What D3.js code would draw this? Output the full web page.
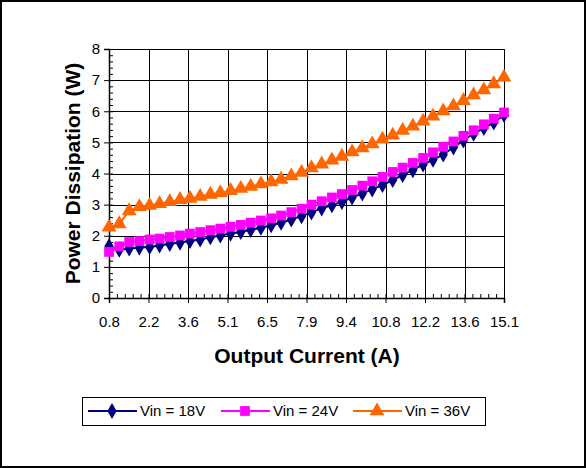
<!DOCTYPE html>
<html>
<head>
<meta charset="utf-8">
<script src="https://cdn.jsdelivr.net/npm/d3@7"></script>
<style>
  body { margin: 0; background: #fff; }
  text { font-family: "Liberation Sans", Arial, sans-serif; fill: #000; }
</style>
</head>
<body>
<div id="chart"></div>
<script>
// output current (A)
var current = [0.80, 1.17, 1.53, 1.90, 2.27, 2.63, 3.00, 3.37, 3.73, 4.10,
  4.47, 4.83, 5.20, 5.57, 5.93, 6.30, 6.67, 7.03, 7.40, 7.77,
  8.13, 8.50, 8.87, 9.23, 9.60, 9.97, 10.33, 10.70, 11.07, 11.43,
  11.80, 12.17, 12.53, 12.90, 13.27, 13.63, 14.00, 14.37, 14.73, 15.10];

// power dissipation (W) per input voltage
var vin18 = [1.66, 1.55, 1.59, 1.62, 1.64, 1.69, 1.74, 1.78, 1.83, 1.88,
  1.95, 2.01, 2.07, 2.12, 2.19, 2.26, 2.34, 2.42, 2.52, 2.63,
  2.75, 2.88, 2.98, 3.09, 3.23, 3.36, 3.49, 3.63, 3.79, 3.95,
  4.11, 4.29, 4.44, 4.61, 4.84, 5.06, 5.28, 5.46, 5.64, 5.88];
var vin24 = [1.48, 1.66, 1.80, 1.83, 1.88, 1.91, 1.96, 2.01, 2.07, 2.12,
  2.18, 2.23, 2.29, 2.35, 2.42, 2.49, 2.56, 2.65, 2.76, 2.87,
  3.00, 3.11, 3.23, 3.34, 3.47, 3.61, 3.75, 3.89, 4.05, 4.19,
  4.34, 4.50, 4.68, 4.86, 5.03, 5.21, 5.39, 5.58, 5.76, 5.96];
var vin36 = [2.27, 2.38, 2.80, 2.93, 2.97, 3.03, 3.09, 3.16, 3.20, 3.26,
  3.33, 3.38, 3.45, 3.52, 3.58, 3.66, 3.73, 3.81, 3.92, 4.03,
  4.18, 4.30, 4.43, 4.55, 4.69, 4.82, 4.95, 5.10, 5.23, 5.38,
  5.52, 5.68, 5.84, 6.01, 6.17, 6.34, 6.52, 6.68, 6.88, 7.09];

var seriesNames = ["Vin = 18V", "Vin = 24V", "Vin = 36V"];

// axis ticks as shown on the chart
var xTickValues = [0.8, 2.23, 3.66, 5.09, 6.52, 7.95, 9.38, 10.81, 12.24, 13.67, 15.1];
var xTickLabels = ["0.8", "2.2", "3.6", "5.1", "6.5", "7.9", "9.4", "10.8", "12.2", "13.6", "15.1"];
var yTickValues = [0, 1, 2, 3, 4, 5, 6, 7, 8];

var width = 587, height = 468;
var margin = {left: 109, right: 83, top: 49, bottom: 170};
var plotW = width - margin.left - margin.right;
var plotH = height - margin.top - margin.bottom;

var colors = ["#000080", "#ff00ff", "#ff6600"];
var shapes = [d3.symbolDiamond, d3.symbolSquare, d3.symbolTriangle];
var sizes = [75, 95, 95];

var series = [vin18, vin24, vin36].map(function(vals, k) {
  return {
    name: seriesNames[k],
    color: colors[k],
    shape: shapes[k],
    size: sizes[k],
    points: vals.map(function(v, i) { return {x: current[i], y: v}; })
  };
});

var x = d3.scaleLinear().domain([0.8, 15.1]).range([0, plotW]);
var y = d3.scaleLinear().domain([0, 8]).range([plotH, 0]);

var svg = d3.select("#chart").append("svg")
  .attr("width", width)
  .attr("height", height);

// outer frame
svg.append("rect")
  .attr("x", 1).attr("y", 1)
  .attr("width", width - 3).attr("height", height - 2)
  .attr("fill", "#fff")
  .attr("stroke", "#000")
  .attr("stroke-width", 2);

var g = svg.append("g")
  .attr("transform", "translate(" + margin.left + "," + margin.top + ")");

// gridlines
g.selectAll("line.hgrid")
  .data(yTickValues)
  .enter().append("line")
  .attr("class", "hgrid")
  .attr("x1", 0).attr("x2", plotW)
  .attr("y1", function(d) { return Math.round(y(d)) + 0.5; })
  .attr("y2", function(d) { return Math.round(y(d)) + 0.5; })
  .attr("stroke", "#000")
  .attr("stroke-width", 1);

g.selectAll("line.vgrid")
  .data(xTickValues)
  .enter().append("line")
  .attr("class", "vgrid")
  .attr("y1", 0).attr("y2", plotH)
  .attr("x1", function(d) { return Math.round(x(d)) + 0.5; })
  .attr("x2", function(d) { return Math.round(x(d)) + 0.5; })
  .attr("stroke", "#000")
  .attr("stroke-width", 1);

// y axis: major ticks outside, minor ticks inside
var yMinor = d3.range(0, 8.0001, 0.2);
g.append("g")
  .call(d3.axisLeft(y).tickValues(yMinor).tickSize(-4).tickFormat(""))
  .call(function(a) { a.select(".domain").remove(); });
var yAxis = g.append("g")
  .call(d3.axisLeft(y).tickValues(yTickValues).tickSize(5).tickPadding(4).tickFormat(d3.format("d")));
yAxis.select(".domain").attr("stroke-width", 1.5);
yAxis.selectAll("text").style("font-size", "15px").attr("fill", "#000");

// x axis
var xMinor = d3.range(0, 51).map(function(i) { return 0.8 + i * 0.286; });
g.append("g")
  .attr("transform", "translate(0," + plotH + ")")
  .call(d3.axisBottom(x).tickValues(xMinor).tickSize(-4).tickFormat(""))
  .call(function(a) { a.select(".domain").remove(); });
var xAxis = g.append("g")
  .attr("transform", "translate(0," + plotH + ")")
  .call(d3.axisBottom(x).tickValues(xTickValues).tickSize(5).tickPadding(13)
    .tickFormat(function(d, i) { return xTickLabels[i]; }));
xAxis.select(".domain").attr("stroke-width", 1.5);
xAxis.selectAll("text").style("font-size", "15px").attr("fill", "#000");

// series
var line = d3.line()
  .x(function(d) { return x(d.x); })
  .y(function(d) { return y(d.y); });

var sg = g.selectAll("g.series")
  .data(series)
  .enter().append("g")
  .attr("class", "series");

sg.append("path")
  .attr("d", function(d) { return line(d.points); })
  .attr("fill", "none")
  .attr("stroke", function(d) { return d.color; })
  .attr("stroke-width", 2);

sg.each(function(s) {
  d3.select(this).selectAll("path.mark")
    .data(s.points)
    .enter().append("path")
    .attr("class", "mark")
    .attr("transform", function(d) { return "translate(" + x(d.x) + "," + y(d.y) + ")"; })
    .attr("d", d3.symbol().type(s.shape).size(s.size))
    .attr("fill", s.color);
});

// axis titles
svg.append("text")
  .attr("x", 307)
  .attr("y", 363)
  .attr("text-anchor", "middle")
  .style("font-size", "21px")
  .style("font-weight", "bold")
  .text("Output Current (A)");

svg.append("text")
  .attr("transform", "translate(80," + (margin.top + plotH / 2) + ") rotate(-90)")
  .attr("text-anchor", "middle")
  .style("font-size", "21px")
  .style("font-weight", "bold")
  .text("Power Dissipation (W)");

// legend
var legend = svg.append("g").attr("transform", "translate(82,397)");
legend.append("rect")
  .attr("x", 0.5).attr("y", 0.5)
  .attr("width", 403).attr("height", 28)
  .attr("fill", "#fff")
  .attr("stroke", "#000")
  .attr("stroke-width", 1);

var itemX = [6, 139, 271];
var li = legend.selectAll("g.item")
  .data(series)
  .enter().append("g")
  .attr("class", "item")
  .attr("transform", function(d, i) { return "translate(" + itemX[i] + ",14)"; });

li.append("line")
  .attr("x1", 0).attr("x2", 49)
  .attr("stroke", function(d) { return d.color; })
  .attr("stroke-width", 2);
li.append("path")
  .attr("transform", "translate(24,0)")
  .attr("d", function(d) { return d3.symbol().type(d.shape).size(d.size)(); })
  .attr("fill", function(d) { return d.color; });
li.append("text")
  .attr("x", 52)
  .attr("y", 5)
  .style("font-size", "15px")
  .text(function(d) { return d.name; });
</script>
</body>
</html>
